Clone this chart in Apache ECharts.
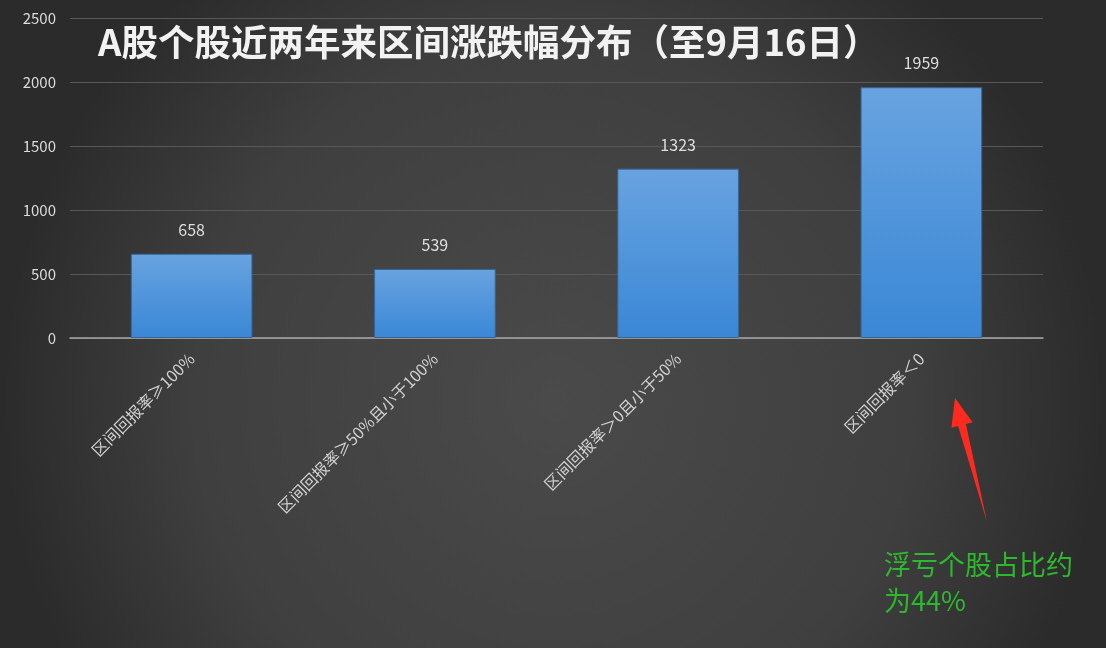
<!DOCTYPE html>
<html>
<head>
<meta charset="utf-8">
<script src="https://cdn.jsdelivr.net/npm/echarts@6/dist/echarts.min.js"></script>
<style>
html,body{margin:0;padding:0;background:#333;}
#main{width:1106px;height:648px;}
</style>
</head>
<body>
<div id="main"></div>
<script>
const titleText = 'A股个股近两年来区间涨跌幅分布（至9月16日）';
const categories = ['区间回报率≥100%', '区间回报率≥50%且小于100%', '区间回报率＞0且小于50%', '区间回报率＜0'];
const counts = [658, 539, 1323, 1959];
const yTicks = [0, 500, 1000, 1500, 2000, 2500];
const noteLines = ['浮亏个股占比约', '为44%'];

const chart = echarts.init(document.getElementById('main'));
const font = '"Noto Sans CJK SC", "Noto Sans", sans-serif';
chart.setOption({
  backgroundColor: {
    type: 'radial', x: 0.5, y: 0.62, r: 0.85,
    colorStops: [
      {offset: 0, color: '#4a4a4a'},
      {offset: 0.65, color: '#3f3f3f'},
      {offset: 1, color: '#2b2b2b'}
    ]
  },
  title: {
    text: titleText,
    left: 93, top: 19,
    textStyle: {color: '#f2f2f2', fontSize: 36.5, fontWeight: 'bold', fontFamily: font}
  },
  grid: {left: 70, right: 63, top: 18, bottom: 310, containLabel: false},
  xAxis: {
    type: 'category',
    data: categories,
    axisLine: {lineStyle: {color: '#a8a8a8', width: 1.5}},
    axisTick: {show: false},
    axisLabel: {rotate: 45, margin: 18, color: '#d2d2d2', fontSize: 16, fontFamily: font, interval: 0}
  },
  yAxis: {
    type: 'value',
    min: yTicks[0], max: yTicks[yTicks.length - 1], interval: 500,
    axisLine: {show: false},
    axisTick: {show: false},
    axisLabel: {color: '#dcdcdc', fontSize: 15, margin: 14, fontFamily: font, formatter: v => String(v)},
    splitLine: {lineStyle: {color: '#585858', width: 1}}
  },
  series: [{
    type: 'bar',
    data: counts,
    barWidth: '50%',
    itemStyle: {
      color: {
        type: 'linear', x: 0, y: 0, x2: 0, y2: 1,
        colorStops: [{offset: 0, color: '#68a3e0'}, {offset: 1, color: '#3a87d6'}]
      },
      borderColor: '#35679a', borderWidth: 1
    },
    label: {show: true, position: 'top', distance: 16, color: '#dedede', fontSize: 16, fontFamily: font}
  }],
  graphic: [
    {
      type: 'polygon',
      shape: {points: [[955, 398], [972.6, 422.3], [965.9, 424], [987, 522], [958.1, 426], [951.4, 427.8]]},
      style: {fill: '#ff2a1f'}
    },
    {
      type: 'text', left: 884, top: 547,
      style: {text: noteLines.join('\n'), fill: '#2eb82e', fontSize: 27, lineHeight: 36, fontFamily: font}
    }
  ]
});
</script>
</body>
</html>
